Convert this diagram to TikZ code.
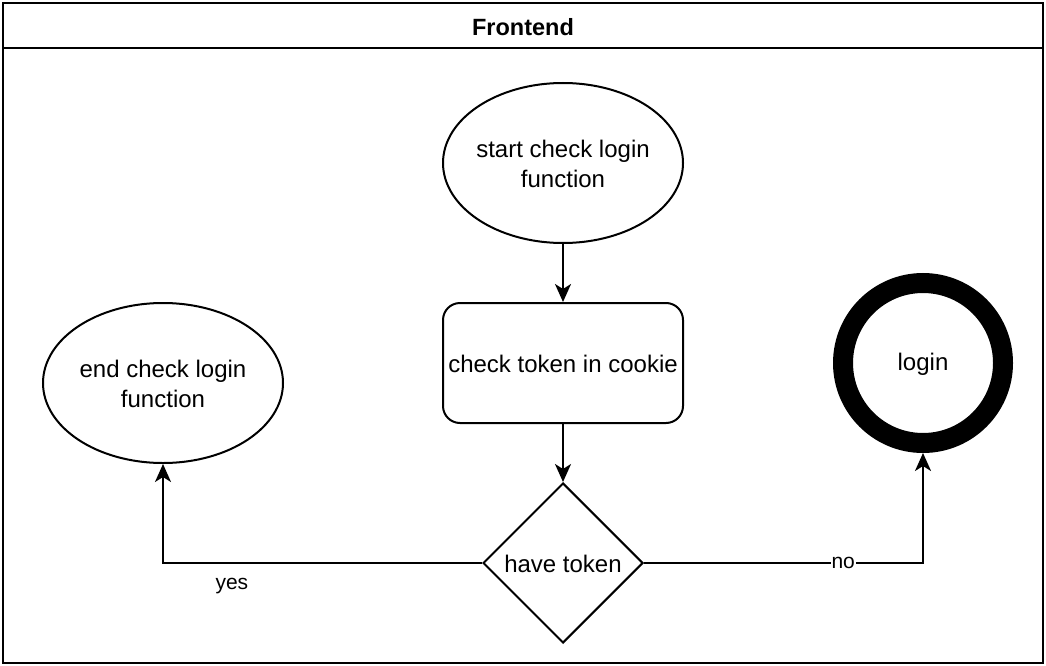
\documentclass[tikz,border=0pt]{standalone}
\usepackage{fontspec}
\setmainfont{Liberation Sans}
\usetikzlibrary{arrows.meta,shapes.geometric}
\begin{document}
\begin{tikzpicture}[x=1pt,y=-1pt,
  line width=2pt,
  txt/.style={font=\fontsize{24}{30}\selectfont, align=center, inner sep=0pt},
  ell/.style={draw, ellipse, minimum width=240pt, minimum height=160pt, inner sep=0pt},
  rbox/.style={draw, rounded corners=17pt, minimum width=240pt, minimum height=120pt, inner sep=0pt},
  dia/.style={draw, diamond, minimum width=160pt, minimum height=160pt, inner sep=0pt},
  term/.style={draw, circle, line width=20pt, minimum size=160pt, inner sep=0pt},
  edgelbl/.style={font=\fontsize{21}{25}\selectfont, inner sep=1pt},
  arr/.style={-{Stealth[length=18pt,width=16pt,inset=5pt]}, line width=2pt}
]
\useasboundingbox (0,0) rectangle (1046,666);
\draw (3,3) rectangle (1043,663);
\draw (3,48) -- (1043,48);
\node[font=\fontsize{23.5}{28}\selectfont\bfseries] (title) at (523,27) {Frontend};

\node[ell] (start) at (563,163) {};
\node[txt] (starttxt) at (563,164) {start check login\\function};
\node[rbox] (check) at (563,363) {};
\node[txt] (checktxt) at (563,364) {check token in cookie};
\node[dia] (dec) at (563,563) {};
\node[txt] (dectxt) at (563,564) {have token};
\node[ell] (end) at (163,383) {};
\node[txt] (endtxt) at (163,384) {end check login\\function};
\node[term] (login) at (923,363) {};
\node[txt] (logintxt) at (923,364) {login};

\draw[arr] (start.south) -- (check.north);
\draw[arr] (check.south) -- (dec.north);
\draw[arr] (dec.west) -| node[pos=0.392, edgelbl, yshift=-23pt] (yes) {yes} (end.south);
\draw[arr] (dec.east) -| node[pos=0.357, edgelbl, fill=white] (no) {no} (login.south);
\end{tikzpicture}
\end{document}
